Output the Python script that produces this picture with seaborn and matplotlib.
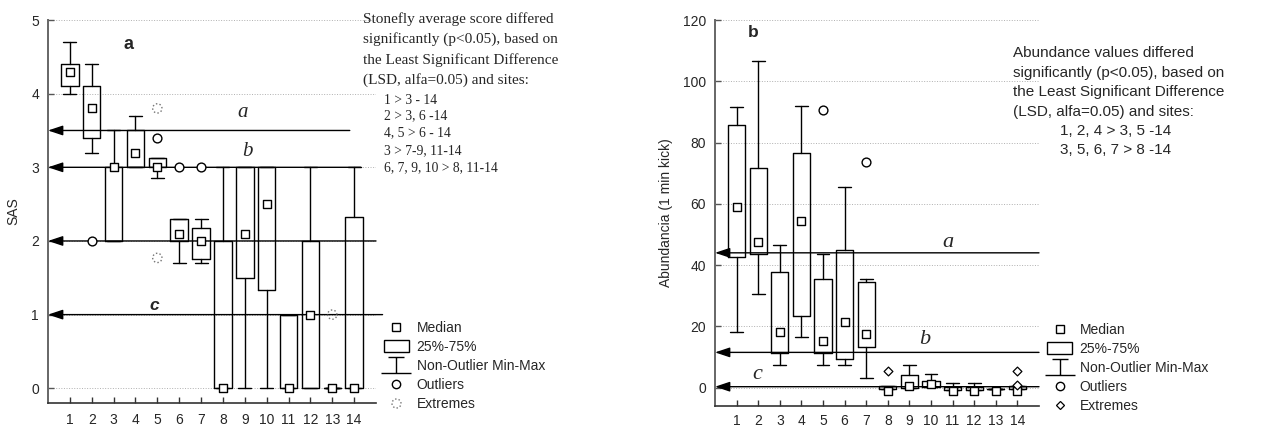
import numpy as np
import matplotlib
matplotlib.use("Agg")
import matplotlib.pyplot as plt
import seaborn as sns
from matplotlib.lines import Line2D
from matplotlib.patches import Rectangle
from matplotlib.path import Path

sites = list(range(1, 15))

# panel a - stonefly average score (SAS)
sas_median = [4.3, 3.8, 3.0, 3.2, 3.0, 2.1, 2.0, 0.0, 2.1, 2.5, 0.0, 1.0, 0.0, 0.0]
sas_q1 = [4.1, 3.4, 2.0, 3.0, 3.0, 2.0, 1.75, 0.0, 1.5, 1.33, 0.0, 0.0, 0.0, 0.0]
sas_q3 = [4.4, 4.1, 3.0, 3.5, 3.13, 2.3, 2.17, 2.0, 3.0, 3.0, 1.0, 2.0, 0.0, 2.33]
sas_min = [4.0, 3.2, 2.0, 3.0, 2.85, 1.7, 1.7, 0.0, 0.0, 0.0, 0.0, 0.0, 0.0, 0.0]
sas_max = [4.7, 4.4, 3.5, 3.7, 3.13, 2.3, 2.3, 3.0, 3.0, 3.0, 1.0, 3.0, 0.0, 3.0]
sas_out_site = [2, 5, 6, 7]
sas_out_val = [2.0, 3.4, 3.0, 3.0]
sas_ext_site = [5, 5, 13]
sas_ext_val = [3.8, 1.77, 1.0]
sas_lsd = [3.5, 3.0, 2.0, 1.0]
sas_lsd_end = [13.8, 14.3, 15.0, 15.3]

# panel b - abundance (1 min kick)
ab_median = [59, 47.6, 18.3, 54.5, 15.3, 21.5, 17.6, -1, 0.4, 1.3, -1, -1, -1, -1]
ab_q1 = [42.7, 43.7, 11.4, 23.5, 11.4, 9.5, 13.4, -0.4, 0, 0.3, -0.8, -0.8, -0.3, -0.5]
ab_q3 = [85.8, 71.7, 37.6, 76.6, 35.6, 44.9, 34.6, 0.5, 4.2, 2.3, 0.3, 0.3, -0.3, 0.5]
ab_min = [18.3, 30.7, 7.5, 16.4, 7.5, 7.5, 3.3, -0.4, 0, 0.3, -0.8, -0.8, -0.3, -0.5]
ab_max = [91.7, 106.7, 46.6, 92, 43.7, 65.6, 35.6, 0.5, 7.5, 4.3, 1.5, 1.5, -0.3, 0.5]
ab_out_site = [5, 7]
ab_out_val = [90.7, 73.7]
ab_ext_site = [8, 14, 14]
ab_ext_val = [5.5, 5.5, 1.0]
ab_lsd = [44, 11.5, 0.3]
ab_lsd_end = [15, 15, 15]

W, H = 1261, 428


def fx(px):
    return px / W


def fy(py):
    return 1 - py / H


# marker for the whisker legend symbol and the dotted "extremes" ring
whisk_path = Path([(-0.54, 0.54), (0.54, 0.54), (0, 0.54), (0, -0.54), (-1, -0.54), (1, -0.54)],
                  [Path.MOVETO, Path.LINETO, Path.MOVETO, Path.LINETO, Path.MOVETO, Path.LINETO])
ring_v, ring_c = [], []
for k in range(8):
    a = np.linspace(np.radians(k * 45), np.radians(k * 45 + 18), 3)
    for j, t in enumerate(a):
        ring_v.append((np.cos(t), np.sin(t)))
        ring_c.append(Path.MOVETO if j == 0 else Path.LINETO)
ring_path = Path(ring_v, ring_c)


def draw_boxes(ax, q1, med, q3, lo, hi):
    stats = []
    for a, m, b, l, h in zip(q1, med, q3, lo, hi):
        stats.append(dict(med=m, q1=a, q3=b, whislo=l, whishi=h, fliers=[]))
    lp = dict(color="black", lw=1.0)
    ax.bxp(stats, positions=sites, widths=0.8, capwidths=0.6, showfliers=False,
           boxprops=lp, whiskerprops=lp, capprops=lp, medianprops=dict(lw=0),
           manage_ticks=False)
    sns.scatterplot(x=sites, y=med, marker="s", s=38, color="white", edgecolor="black",
                    linewidth=1.0, ax=ax, zorder=5)


def lsd_lines(ax, levels, ends):
    for lev, end in zip(levels, ends):
        ax.annotate("", xy=(0, lev), xytext=(end, lev), annotation_clip=False,
                    arrowprops=dict(arrowstyle="-|>,head_length=0.9,head_width=0.3",
                                    color="black", lw=1.0, shrinkA=0, shrinkB=0,
                                    mutation_scale=10))


def style_axes(ax, ylim, yticks, xpad):
    ax.set_xlim(0, 15)
    ax.set_ylim(*ylim)
    ax.set_xticks(sites)
    ax.set_xticklabels([str(s) for s in sites])
    ax.set_yticks(yticks)
    ax.yaxis.grid(True, ls=":", color="#b0b0b0", lw=0.7)
    ax.xaxis.grid(False)
    ax.set_axisbelow(True)
    sns.despine(ax=ax)
    ax.spines["left"].set_color("#666666")
    ax.spines["left"].set_linewidth(1.4)
    ax.spines["bottom"].set_color("#333333")
    ax.spines["bottom"].set_linewidth(1.2)
    ax.tick_params(axis="x", direction="in", length=4, width=1, color="#333333",
                   labelsize=10, pad=xpad)
    ax.tick_params(axis="y", direction="in", length=4, width=1, color="#555555",
                   labelsize=10, pad=6.5)


sns.set_style("ticks")
plt.rcParams["font.family"] = ["Liberation Sans", "DejaVu Sans"]

fig = plt.figure(figsize=(W / 100, H / 100), dpi=100)
ax1 = fig.add_axes([fx(48), fy(403), fx(376) - fx(48), fy(20) - fy(403)])
ax2 = fig.add_axes([fx(715), fy(406), fx(1039) - fx(715), fy(20) - fy(406)])

# ---- panel a
style_axes(ax1, (-0.2, 5), range(0, 6), 7.5)
lsd_lines(ax1, sas_lsd, sas_lsd_end)
draw_boxes(ax1, sas_q1, sas_median, sas_q3, sas_min, sas_max)
sns.scatterplot(x=sas_out_site, y=sas_out_val, marker="o", s=40, color="white",
                edgecolor="black", linewidth=1.0, ax=ax1, zorder=5)
ax1.scatter(sas_ext_site, sas_ext_val, marker=ring_path, s=45, facecolors="none",
            edgecolors="#777777", linewidths=1.0, zorder=5)
ax1.set_ylabel("SAS", fontsize=10)
ax1.yaxis.set_label_coords(-0.085, 0.5)
ax1.text(3.69, 4.67, "a", fontsize=13, fontweight="bold", ha="center", va="center")
ax1.text(8.9, 3.74, "a", fontsize=15, style="italic", family="Liberation Serif",
         ha="center", va="center")
ax1.text(9.13, 3.21, "b", fontsize=15, style="italic", family="Liberation Serif",
         ha="center", va="center")
ax1.text(4.84, 1.12, "c", fontsize=12.5, style="italic", fontweight="bold",
         ha="center", va="center")

# ---- panel b
style_axes(ax2, (-6, 120), range(0, 121, 20), 5.5)
lsd_lines(ax2, ab_lsd, ab_lsd_end)
draw_boxes(ax2, ab_q1, ab_median, ab_q3, ab_min, ab_max)
sns.scatterplot(x=ab_out_site, y=ab_out_val, marker="o", s=40, color="white",
                edgecolor="black", linewidth=1.0, ax=ax2, zorder=5)
sns.scatterplot(x=ab_ext_site, y=ab_ext_val, marker="D", s=20, color="white",
                edgecolor="black", linewidth=0.9, ax=ax2, zorder=5)
ax2.set_ylabel("Abundancia (1 min kick)", fontsize=10)
ax2.yaxis.set_label_coords(-0.129, 0.5)
ax2.text(1.79, 116, "b", fontsize=12.5, fontweight="bold", ha="center", va="center")
ax2.text(10.77, 47.3, "a", fontsize=16, style="italic", family="Liberation Serif",
         ha="center", va="center")
ax2.text(9.7, 15.6, "b", fontsize=16, style="italic", family="Liberation Serif",
         ha="center", va="center")
ax2.text(1.97, 4.3, "c", fontsize=16, style="italic", family="Liberation Serif",
         ha="center", va="center")

# ---- LSD notes
note_a = ["Stonefly average score differed", "significantly (p<0.05), based on",
          "the Least Significant Difference", "(LSD, alfa=0.05) and sites:"]
sub_a = ["1 > 3 - 14", "2 > 3, 6 -14", "4, 5 > 6 - 14", "3 > 7-9, 11-14",
         "6, 7, 9, 10 > 8, 11-14"]
for line, py in zip(note_a, [19, 39.5, 60, 80]):
    fig.text(fx(363), fy(py), line, fontsize=11, family="Liberation Serif", va="center")
for line, py in zip(sub_a, [100, 116, 133, 151, 168]):
    fig.text(fx(384), fy(py), line, fontsize=9.8, family="Liberation Serif", va="center")

note_b = ["Abundance values differed", "significantly (p<0.05), based on",
          "the Least Significant Difference", "(LSD, alfa=0.05) and sites:"]
sub_b = ["1, 2, 4 > 3, 5 -14", "3, 5, 6, 7 > 8 -14"]
for line, py in zip(note_b, [53, 73, 92, 112]):
    fig.text(fx(1013), fy(py), line, fontsize=11, va="center")
for line, py in zip(sub_b, [131, 150]):
    fig.text(fx(1060), fy(py), line, fontsize=11, va="center")

# ---- legends
h_med = Line2D([], [], ls="none", marker="s", ms=6.3, mfc="white", mec="black", mew=1)
h_box = Rectangle((0, 0), 1, 1, fc="white", ec="black", lw=1)
h_whisk = Line2D([], [], ls="none", marker=whisk_path, ms=22, mec="black", mew=1)
h_out = Line2D([], [], ls="none", marker="o", ms=6, mfc="white", mec="black", mew=1)
h_ext_a = Line2D([], [], ls="none", marker=ring_path, ms=6.5, mfc="none", mec="#777777", mew=1)
h_ext_b = Line2D([], [], ls="none", marker="D", ms=4.3, mfc="white", mec="black", mew=0.9)
labels = ["Median", "25%-75%", "Non-Outlier Min-Max", "Outliers", "Extremes"]

for ax, ext, px, py in [(ax1, h_ext_a, 384, 321), (ax2, h_ext_b, 1047, 323)]:
    ax.legend([h_med, h_box, h_whisk, h_out, ext], labels, loc="upper left",
              bbox_to_anchor=(fx(px), fy(py)), bbox_transform=fig.transFigure,
              frameon=False, fontsize=10, handlelength=1.8, handleheight=1.0,
              labelspacing=0.36, handletextpad=0.55, borderpad=0, borderaxespad=0)

fig.savefig("out.png", dpi=100, facecolor="white")
